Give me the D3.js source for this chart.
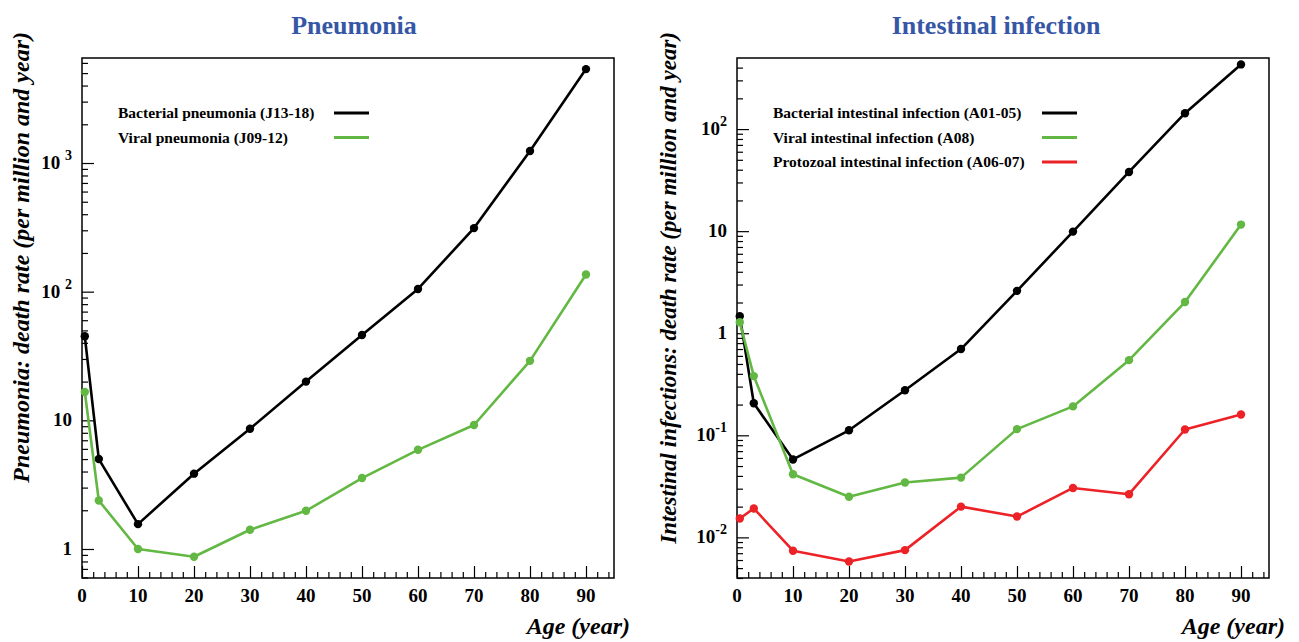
<!DOCTYPE html>
<html>
<head>
<meta charset="utf-8">
<script src="https://cdn.jsdelivr.net/npm/d3@7"></script>
<style>
  html, body { margin: 0; padding: 0; background: #fff; }
  svg { display: block; }
  text { font-family: "Liberation Serif", "DejaVu Serif", serif; font-weight: bold; }
</style>
</head>
<body>
<svg id="chart" width="1299" height="642"></svg>
<script>
// ---------------- data ----------------
const ages = [0.5, 3, 10, 20, 30, 40, 50, 60, 70, 80, 90];
const xTicks = [0, 10, 20, 30, 40, 50, 60, 70, 80, 90];

const bacterialPneumonia = [45, 5.0, 1.56, 3.85, 8.6, 20, 46, 105, 312, 1240, 5370];
const viralPneumonia     = [16.6, 2.38, 1.0, 0.87, 1.41, 1.98, 3.56, 5.9, 9.2, 29, 136];

const bacterialIntestinal = [1.47, 0.206, 0.058, 0.112, 0.276, 0.70, 2.6, 9.9, 38, 143, 430];
const viralIntestinal     = [1.28, 0.38, 0.0415, 0.0250, 0.0345, 0.0385, 0.115, 0.192, 0.545, 2.02, 11.6];
const protozoalIntestinal = [0.0153, 0.0192, 0.0074, 0.0058, 0.0075, 0.0200, 0.0160, 0.0305, 0.0265, 0.114, 0.160];

const pneumoniaTickValues = [1, 10, 100, 1000];
const pneumoniaTickLabels = [["1", null], ["10", null], ["10", "2"], ["10", "3"]];
const intestinalTickValues = [0.01, 0.1, 1, 10, 100];
const intestinalTickLabels = [["10", "-2"], ["10", "-1"], ["1", null], ["10", null], ["10", "2"]];

const pneumoniaLegend = ["Bacterial pneumonia (J13-18)", "Viral pneumonia (J09-12)"];
const intestinalLegend = ["Bacterial intestinal infection (A01-05)", "Viral intestinal infection (A08)", "Protozoal intestinal infection (A06-07)"];

const BLACK = "#000000", GREEN = "#62b843", RED = "#ec2227", TITLE = "#3656a6";

// ---------------- drawing ----------------
const svg = d3.select("#chart");

function panel(cfg) {
  const g = svg.append("g");
  const x = d3.scaleLinear().domain([0, 95]).range([cfg.left, cfg.right]);
  const y = d3.scaleLog().domain(cfg.yDomain).range([cfg.bottom, cfg.top]);

  // title
  g.append("text").attr("x", cfg.titleX).attr("y", 34).attr("text-anchor", "middle")
    .attr("font-size", 26).attr("fill", TITLE).text(cfg.title);

  // minor y ticks
  const lo = Math.floor(Math.log10(cfg.yDomain[0])), hi = Math.ceil(Math.log10(cfg.yDomain[1]));
  const minor = [];
  for (let e = lo; e <= hi; e++) for (let m = 2; m <= 9; m++) {
    const v = m * Math.pow(10, e);
    if (v >= cfg.yDomain[0] && v <= cfg.yDomain[1]) minor.push(v);
  }
  g.append("g").attr("transform", `translate(${cfg.left},0)`)
    .call(d3.axisLeft(y).tickValues(minor).tickSize(-6).tickFormat(""))
    .call(s => s.select(".domain").remove())
    .call(s => s.selectAll("line").attr("stroke", "#000").attr("stroke-width", 1.2));
  g.append("g").attr("transform", `translate(${cfg.left},0)`)
    .call(d3.axisLeft(y).tickValues(cfg.yTicks).tickSize(-12).tickFormat(""))
    .call(s => s.select(".domain").remove())
    .call(s => s.selectAll("line").attr("stroke", "#000").attr("stroke-width", 1.2));

  // x ticks
  const xMinor = d3.range(0, 95.01, 2).filter(v => v % 10 !== 0);
  g.append("g").attr("transform", `translate(0,${cfg.bottom})`)
    .call(d3.axisBottom(x).tickValues(xMinor).tickSize(-6).tickFormat(""))
    .call(s => s.select(".domain").remove())
    .call(s => s.selectAll("line").attr("stroke", "#000").attr("stroke-width", 1.2));
  g.append("g").attr("transform", `translate(0,${cfg.bottom})`)
    .call(d3.axisBottom(x).tickValues(xTicks).tickSize(-12).tickFormat(""))
    .call(s => s.select(".domain").remove())
    .call(s => s.selectAll("line").attr("stroke", "#000").attr("stroke-width", 1.2));

  // x tick labels
  g.selectAll(".xl").data(xTicks).join("text")
    .attr("x", d => x(d)).attr("y", cfg.bottom + 24).attr("text-anchor", "middle")
    .attr("font-size", 19).text(d => d);

  // y tick labels
  cfg.yTicks.forEach((v, i) => {
    const [base, sup] = cfg.yLabels[i];
    const t = g.append("text").attr("x", cfg.left - 10).attr("y", y(v) + 6)
      .attr("text-anchor", "end").attr("font-size", 19);
    t.append("tspan").text(base);
    if (sup) {
      if (cfg.supGap) t.append("tspan").text(" ");
      t.append("tspan").attr("dy", -9).attr("font-size", 14).text(sup);
    }
  });

  // frame
  g.append("rect").attr("x", cfg.left).attr("y", cfg.top)
    .attr("width", cfg.right - cfg.left).attr("height", cfg.bottom - cfg.top)
    .attr("fill", "none").attr("stroke", "#000").attr("stroke-width", 1.5);

  // axis titles
  g.append("text").attr("x", cfg.right + 16).attr("y", 634).attr("text-anchor", "end")
    .attr("font-size", 24).attr("font-style", "italic").text("Age (year)");
  g.append("text").attr("transform", `translate(${cfg.yTitleX},${cfg.top - 26}) rotate(-90)`)
    .attr("text-anchor", "end").attr("font-size", cfg.yTitleSize).attr("font-style", "italic")
    .text(cfg.yTitle);

  // series
  const line = d3.line().x((d, i) => x(ages[i])).y(d => y(d));
  cfg.series.forEach(s => {
    g.append("path").datum(s.values).attr("d", line).attr("fill", "none")
      .attr("stroke", s.color).attr("stroke-width", 2.6).attr("stroke-linejoin", "round");
    g.selectAll(null).data(s.values).join("circle")
      .attr("cx", (d, i) => x(ages[i])).attr("cy", d => y(d)).attr("r", 4.2).attr("fill", s.color);
  });

  // legend
  cfg.series.forEach((s, i) => {
    const ly = 113 + i * 24.5;
    g.append("text").attr("x", cfg.legendX).attr("y", ly + 5).attr("font-size", 15.5).text(cfg.legend[i]);
    g.append("line").attr("x1", cfg.legendLineX).attr("x2", cfg.legendLineX + 35)
      .attr("y1", ly).attr("y2", ly).attr("stroke", s.color).attr("stroke-width", 3);
  });
}

panel({
  left: 82, right: 614, top: 58, bottom: 578,
  yDomain: [0.595, 6550], yTicks: pneumoniaTickValues, yLabels: pneumoniaTickLabels, supGap: true,
  title: "Pneumonia", titleX: 354,
  yTitle: "Pneumonia: death rate (per million and year)", yTitleX: 29, yTitleSize: 24,
  legend: pneumoniaLegend, legendX: 118, legendLineX: 334,
  series: [{ values: bacterialPneumonia, color: BLACK }, { values: viralPneumonia, color: GREEN }]
});

panel({
  left: 737, right: 1269, top: 58, bottom: 578,
  yDomain: [0.0040, 497], yTicks: intestinalTickValues, yLabels: intestinalTickLabels, supGap: false,
  title: "Intestinal infection", titleX: 996,
  yTitle: "Intestinal infections: death rate (per million and year)", yTitleX: 676, yTitleSize: 23,
  legend: intestinalLegend, legendX: 773, legendLineX: 1042,
  series: [{ values: bacterialIntestinal, color: BLACK }, { values: viralIntestinal, color: GREEN },
           { values: protozoalIntestinal, color: RED }]
});
</script>
</body>
</html>
